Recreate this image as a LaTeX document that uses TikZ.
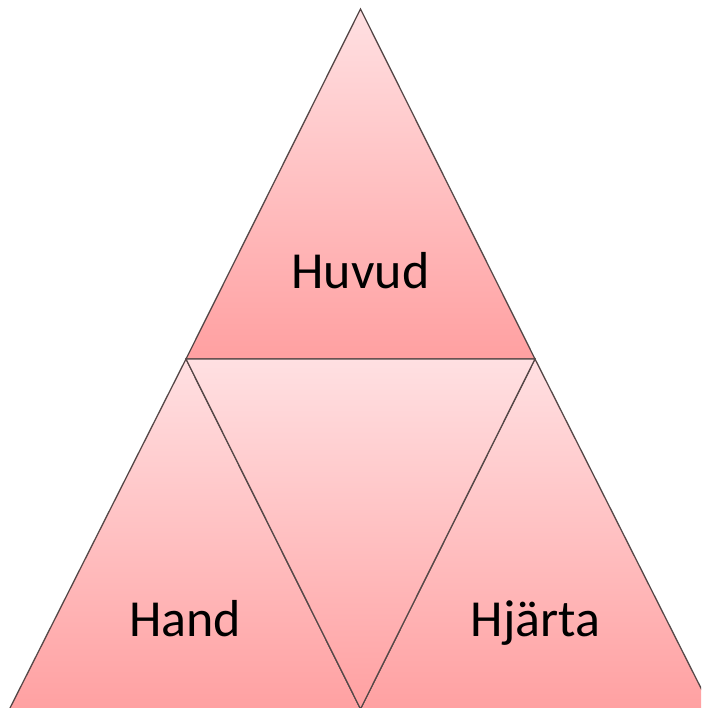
\documentclass[tikz,border=0pt]{standalone}
\usepackage{fontspec}
\usetikzlibrary{calc}
\setmainfont{Carlito}
\definecolor{pinktop}{RGB}{255,224,226}
\definecolor{pinkbot}{RGB}{255,160,161}
\definecolor{edge}{RGB}{85,72,72}
\begin{document}
\begin{tikzpicture}[x=1pt,y=-1pt,
  tri/.style={top color=pinktop,bottom color=pinkbot,draw=edge,line width=1.3pt,line join=miter},
  lbl/.style={font=\fontsize{52}{60}\selectfont,text=black,anchor=base,inner sep=0pt}]
\useasboundingbox (0,0) rectangle (701,708);
\clip (0,0) rectangle (701,708);
\coordinate (apex) at (360.5,9);
\coordinate (bl) at (186,359);
\coordinate (br) at (535,359);
\coordinate (bm) at (360.5,709);
\coordinate (bmL) at ($(bl)!1.01!(bm)$);
\coordinate (bmR) at ($(br)!1.01!(bm)$);
\coordinate (ll) at ($(bl)!1.01!(9.5,709)$);
\coordinate (rr) at ($(br)!1.01!(711.5,709)$);
% top triangle
\path[tri] (apex) -- (br) -- (bl) -- cycle;
% bottom left
\path[tri] (bl) -- (bmL) -- (ll) -- cycle;
% bottom right
\path[tri] (br) -- (rr) -- (bmR) -- cycle;
% middle inverted
\path[tri] (bl) -- (br) -- (bm) -- cycle;
\node[lbl] (huvud) at (360.5,288) {Huvud};
\node[lbl] (hand) at (185,636) {Hand};
\node[lbl] (hjarta) at (535.5,636) {Hjärta};
\end{tikzpicture}
\end{document}
